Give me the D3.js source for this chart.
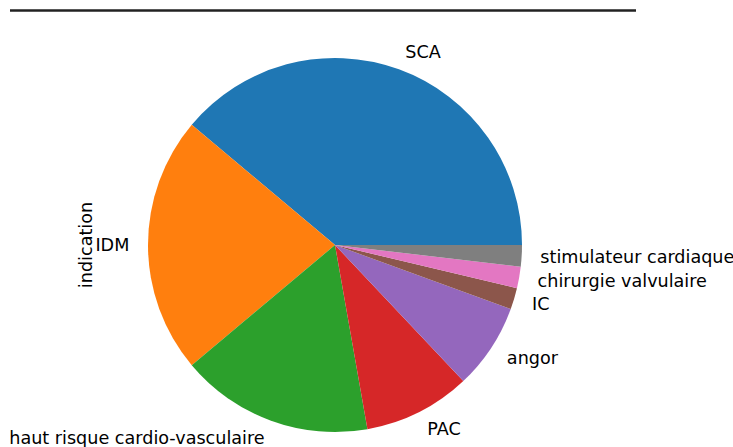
<!DOCTYPE html>
<html><head><meta charset="utf-8">
<script src="https://cdn.jsdelivr.net/npm/d3@7"></script>
<style>body{margin:0;background:#fff;overflow:hidden}svg{display:block}text{font-family:"DejaVu Sans",sans-serif;fill:#000}</style>
</head><body>
<script>
const categories = ["SCA","IDM","haut risque cardio-vasculaire","PAC","angor","IC","chirurgie valvulaire","stimulateur cardiaque"];
const values = [21,12,9,5,4,1,1,1];
const colors = ["#1f77b4","#ff7f0e","#2ca02c","#d62728","#9467bd","#8c564b","#e377c2","#7f7f7f"];
const yLabel = "indication";

const W = 733, H = 447, cx = 335, cy = 245, r = 187, fs = 17.6;
const svg = d3.select("body").append("svg").attr("width", W).attr("height", H);

svg.append("line").attr("x1", 10).attr("x2", 636).attr("y1", 10.5).attr("y2", 10.5)
  .attr("stroke", "#222").attr("stroke-width", 2.5);

const data = categories.map((c, i) => ({cat: c, v: values[i], col: colors[i]}));
const pie = d3.pie().value(d => d.v).sort(null).startAngle(Math.PI/2).endAngle(Math.PI/2 - 2*Math.PI);
const arcs = pie(data);
const arc = d3.arc().innerRadius(0).outerRadius(r);
const g = svg.append("g").attr("transform", `translate(${cx},${cy})`);
g.selectAll("path").data(arcs).join("path").attr("d", arc).attr("fill", d => d.data.col);

g.selectAll("text.lab").data(arcs).join("text").attr("class","lab")
  .attr("x", d => { const m = (d.startAngle + d.endAngle)/2; return 1.1*r*Math.sin(m); })
  .attr("y", d => { const m = (d.startAngle + d.endAngle)/2; return -1.1*r*Math.cos(m); })
  .attr("text-anchor", d => { const m = (d.startAngle + d.endAngle)/2; return Math.sin(m) >= 0 ? "start" : "end"; })
  .attr("dominant-baseline", "central")
  .style("font-size", fs + "px")
  .text(d => d.data.cat);

svg.append("text").attr("transform", `translate(86,${cy}) rotate(-90)`)
  .attr("text-anchor", "middle").attr("dominant-baseline", "central")
  .style("font-size", fs + "px").text(yLabel);
</script>
</body></html>
